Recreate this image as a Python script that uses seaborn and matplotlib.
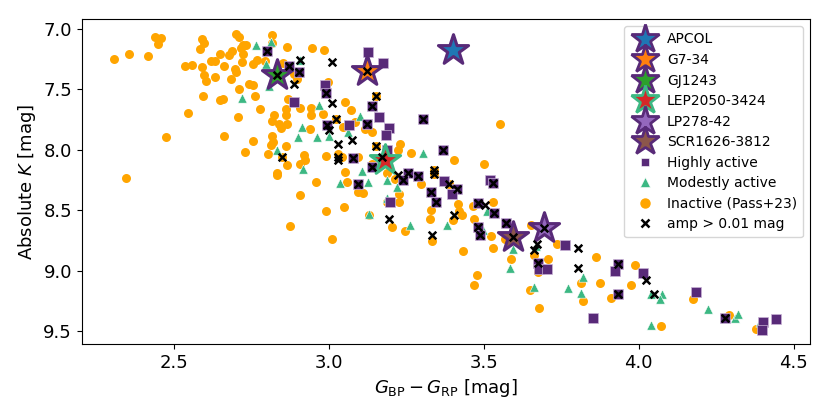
import numpy as np
import pandas as pd
import matplotlib
matplotlib.use("Agg")
import matplotlib.pyplot as plt
import seaborn as sns
from matplotlib.lines import Line2D

# Inactive (Pass+23)
inactive_x = [2.309, 2.356, 2.419, 2.439, 2.459, 2.451, 2.476, 2.346, 2.547, 2.596,
              2.538, 2.561, 2.591, 2.585, 2.593, 2.598, 2.620, 2.634, 2.650, 2.663,
              2.679, 2.688, 2.702, 2.711, 2.723, 2.733, 2.719, 2.725, 2.722, 2.698,
              2.700, 2.685, 2.635, 2.598, 2.604, 2.650, 2.661, 2.708, 2.663, 2.710,
              2.744, 2.757, 2.764, 2.778, 2.756, 2.768, 2.795, 2.818, 2.819, 2.867,
              2.947, 2.984, 2.825, 2.817, 2.841, 2.848, 2.867, 2.862, 2.862, 2.907,
              2.944, 2.944, 2.983, 2.940, 2.816, 2.822, 2.813, 2.863, 2.805, 2.757,
              2.731, 2.866, 2.921, 2.925, 2.907, 2.835, 2.833, 2.960, 2.992, 2.868,
              2.887, 2.897, 2.854, 2.850, 2.907, 2.876, 2.992, 3.010, 2.999, 3.053,
              3.072, 3.024, 3.152, 3.048, 3.086, 3.118, 3.139, 3.032, 3.042, 3.053,
              3.059, 3.096, 3.231, 3.225, 3.265, 3.403, 3.502, 3.553, 3.188, 3.214,
              3.298, 3.153, 3.341, 3.341, 3.139, 3.390, 3.096, 3.112, 3.050, 3.228,
              3.228, 3.188, 3.129, 3.204, 3.247, 3.330, 3.328, 3.333, 3.401, 3.419,
              3.430, 3.422, 3.465, 3.469, 3.435, 3.478, 3.469, 3.524, 3.530, 3.530,
              3.653, 3.588, 3.569, 3.664, 3.707, 3.736, 3.675, 3.650, 3.680, 3.862,
              3.987, 3.814, 3.874, 3.822, 3.911, 3.976, 4.177, 4.293, 4.073, 4.378]
inactive_y = [7.249, 7.208, 7.222, 7.065, 7.073, 7.123, 7.894, 8.233, 7.696, 7.558,
              7.302, 7.299, 7.315, 7.169, 7.084, 7.112, 7.266, 7.266, 7.205, 7.302,
              7.213, 7.183, 7.045, 7.067, 7.136, 7.131, 7.156, 7.205, 7.274, 7.329,
              7.357, 7.417, 7.393, 7.379, 7.426, 7.583, 7.577, 7.729, 7.883, 7.494,
              7.453, 7.459, 7.555, 7.660, 7.288, 7.260, 7.266, 7.048, 7.117, 7.153,
              7.156, 7.172, 7.707, 7.764, 7.784, 7.817, 7.784, 7.660, 7.707, 7.654,
              7.654, 7.715, 7.701, 7.825, 7.888, 7.935, 7.963, 7.971, 8.037, 7.930,
              8.018, 8.128, 8.040, 8.087, 8.114, 8.189, 8.211, 8.266, 8.051, 7.577,
              7.371, 7.417, 7.282, 8.059, 8.372, 8.632, 8.508, 8.734, 7.439, 7.605,
              7.668, 7.745, 7.552, 7.811, 7.770, 7.825, 7.853, 8.037, 8.059, 8.183,
              8.266, 8.059, 7.949, 7.999, 8.026, 8.087, 8.114, 7.784, 8.189, 8.238,
              8.285, 7.971, 8.164, 8.198, 8.120, 8.280, 8.348, 8.357, 8.472, 8.362,
              8.431, 8.431, 8.536, 8.637, 8.670, 8.494, 8.568, 8.756, 8.577, 8.445,
              8.541, 8.506, 8.467, 8.569, 8.831, 9.031, 9.114, 8.715, 8.808, 8.430,
              8.624, 8.899, 8.734, 8.872, 8.905, 8.781, 9.010, 9.161, 9.306, 8.886,
              8.949, 9.101, 9.101, 9.249, 9.225, 9.120, 9.230, 9.368, 9.459, 9.483]

# Modestly active
modest_x = [2.766, 2.813, 2.798, 2.808, 2.720, 2.968, 2.915, 2.903, 2.962, 2.833,
            2.917, 3.102, 3.064, 3.003, 3.303, 3.107, 3.126, 3.037, 3.188, 3.222,
            3.188, 3.129, 3.263, 3.381, 3.497, 3.512, 3.594, 3.585, 3.661, 3.771,
            3.669, 3.822, 3.814, 4.040, 4.077, 4.070, 4.225, 4.311, 4.320, 4.040,
            4.390, 2.908]
modest_y = [7.136, 7.109, 7.288, 7.475, 7.569, 7.632, 7.811, 7.894, 7.894, 8.004,
            8.161, 7.723, 7.853, 7.888, 8.026, 8.175, 8.266, 8.274, 8.252, 8.307,
            8.398, 8.527, 8.624, 8.624, 8.659, 8.505, 8.822, 8.973, 9.134, 9.139,
            8.797, 9.051, 9.181, 9.194, 9.194, 9.235, 9.313, 9.387, 9.359, 9.445,
            9.423, 7.255]

# Highly active
high_x = [2.803, 2.890, 2.989, 2.992, 2.996, 2.905, 2.874, 3.127, 3.174, 3.139,
          3.164, 3.125, 3.066, 3.196, 3.186, 3.306, 3.368, 3.188, 3.080, 3.257,
          3.287, 3.241, 3.373, 3.521, 3.530, 3.096, 3.413, 3.139, 3.198, 3.397,
          3.330, 3.347, 3.483, 3.534, 3.483, 3.489, 3.573, 3.763, 3.675, 3.680,
          3.706, 3.932, 3.924, 4.015, 3.935, 3.854, 4.185, 4.277, 4.401, 4.397,
          4.443]
high_y = [7.183, 7.605, 7.459, 7.530, 7.792, 7.357, 7.302, 7.191, 7.280, 7.638,
          7.729, 7.784, 7.792, 7.820, 7.880, 7.748, 7.999, 7.999, 8.067, 8.191,
          8.219, 8.252, 8.258, 8.247, 8.274, 8.285, 8.321, 8.142, 8.431, 8.368,
          8.348, 8.434, 8.439, 8.519, 8.636, 8.705, 8.602, 8.789, 8.935, 8.982,
          8.985, 8.941, 9.004, 9.018, 9.189, 9.387, 9.178, 9.387, 9.423, 9.486,
          9.401]

# amp > 0.01 mag
var_x = [2.803, 2.992, 2.996, 2.905, 2.874, 3.139, 3.125, 3.306, 3.368, 3.080,
         3.257, 3.287, 3.241, 3.530, 3.096, 3.413, 3.139, 3.330, 3.347, 3.483,
         3.534, 3.483, 3.489, 3.573, 3.675, 3.932, 3.935, 4.277,
         2.908, 2.890, 2.850, 3.010, 3.010, 3.152, 3.024, 3.003, 3.029, 3.075,
         3.032, 3.032, 3.171, 3.225, 3.153, 3.341, 3.341, 3.390, 3.196, 3.333,
         3.403, 3.503, 3.671, 3.663, 3.804, 3.804, 4.024, 4.048,
         2.833, 3.124, 3.596, 3.696]
var_y = [7.183, 7.530, 7.792, 7.357, 7.302, 7.638, 7.784, 7.748, 7.999, 8.067,
         8.191, 8.219, 8.252, 8.274, 8.285, 8.321, 8.142, 8.348, 8.434, 8.439,
         8.519, 8.636, 8.705, 8.602, 8.935, 8.941, 9.189, 9.387,
         7.255, 7.453, 8.059, 7.274, 7.613, 7.552, 7.742, 7.839, 7.949, 7.916,
         8.059, 8.086, 8.059, 8.211, 7.971, 8.164, 8.198, 8.280, 8.569, 8.701,
         8.541, 8.455, 8.781, 8.830, 8.811, 8.976, 9.073, 9.189,
         7.384, 7.351, 8.720, 8.643]

# named targets
star_names = ["APCOL", "G7-34", "GJ1243", "LEP2050-3424", "LP278-42", "SCR1626-3812"]
star_x = [3.401, 3.124, 2.833, 3.182, 3.696, 3.596]
star_y = [7.170, 7.351, 7.384, 8.081, 8.643, 8.720]
star_class = ["high", "high", "high", "modest", "high", "high"]

c_high = "#582a78"
c_modest = "#3cb883"
c_inactive = "#ffa500"
star_fill = ["tab:blue", "tab:orange", "tab:green", "tab:red", "tab:purple", "tab:brown"]
edge_for = {"high": c_high, "modest": c_modest}

fig, ax = plt.subplots(figsize=(8.3, 4.15), dpi=100)

sns.scatterplot(x=inactive_x, y=inactive_y, color=c_inactive, marker="o", s=42,
                linewidth=0, ax=ax, zorder=2)
sns.scatterplot(x=modest_x, y=modest_y, color=c_modest, marker="^", s=45,
                linewidth=0.4, edgecolor="white", ax=ax, zorder=3)
sns.scatterplot(x=high_x, y=high_y, color=c_high, marker="s", s=42,
                linewidth=0.5, edgecolor="#c9b3d6", ax=ax, zorder=4)

for name, sx, sy, cl, fc in zip(star_names, star_x, star_y, star_class, star_fill):
    ax.scatter([sx], [sy], marker="*", s=520, facecolor=fc,
               edgecolor=edge_for[cl], linewidth=2.2, zorder=5)

ax.scatter(var_x, var_y, marker="x", color="black", s=30, linewidth=1.8, zorder=6)

ax.set_xlim(2.204, 4.553)
ax.set_ylim(9.604, 6.92)
ax.set_xticks([2.5, 3.0, 3.5, 4.0, 4.5])
ax.set_yticks([7.0, 7.5, 8.0, 8.5, 9.0, 9.5])
ax.tick_params(labelsize=13)
ax.set_xlabel(r"$G_{\rm BP} - G_{\rm RP}$ [mag]", fontsize=13)
ax.set_ylabel(r"Absolute $K$ [mag]", fontsize=13)

handles = []
for cl, fc in zip(star_class, star_fill):
    handles.append(Line2D([], [], ls="none", marker="*", markersize=21,
                          markerfacecolor=fc, markeredgecolor=edge_for[cl],
                          markeredgewidth=2))
handles.append(Line2D([], [], ls="none", marker="s", markersize=6,
                      markerfacecolor=c_high, markeredgecolor="white", markeredgewidth=0.4))
handles.append(Line2D([], [], ls="none", marker="^", markersize=6.5,
                      markerfacecolor=c_modest, markeredgecolor="white", markeredgewidth=0.4))
handles.append(Line2D([], [], ls="none", marker="o", markersize=6.5,
                      markerfacecolor=c_inactive, markeredgecolor=c_inactive))
handles.append(Line2D([], [], ls="none", marker="x", markersize=5.5,
                      color="black", markeredgewidth=1.8))
labels = star_names + ["Highly active", "Modestly active", "Inactive (Pass+23)",
                       "amp > 0.01 mag"]
ax.legend(handles, labels, loc="upper right", fontsize=10, labelspacing=0.47,
          handletextpad=0.6, borderpad=0.45)

fig.subplots_adjust(left=0.0985, right=0.976, top=0.9535, bottom=0.171)
fig.savefig("out.png", dpi=100)
